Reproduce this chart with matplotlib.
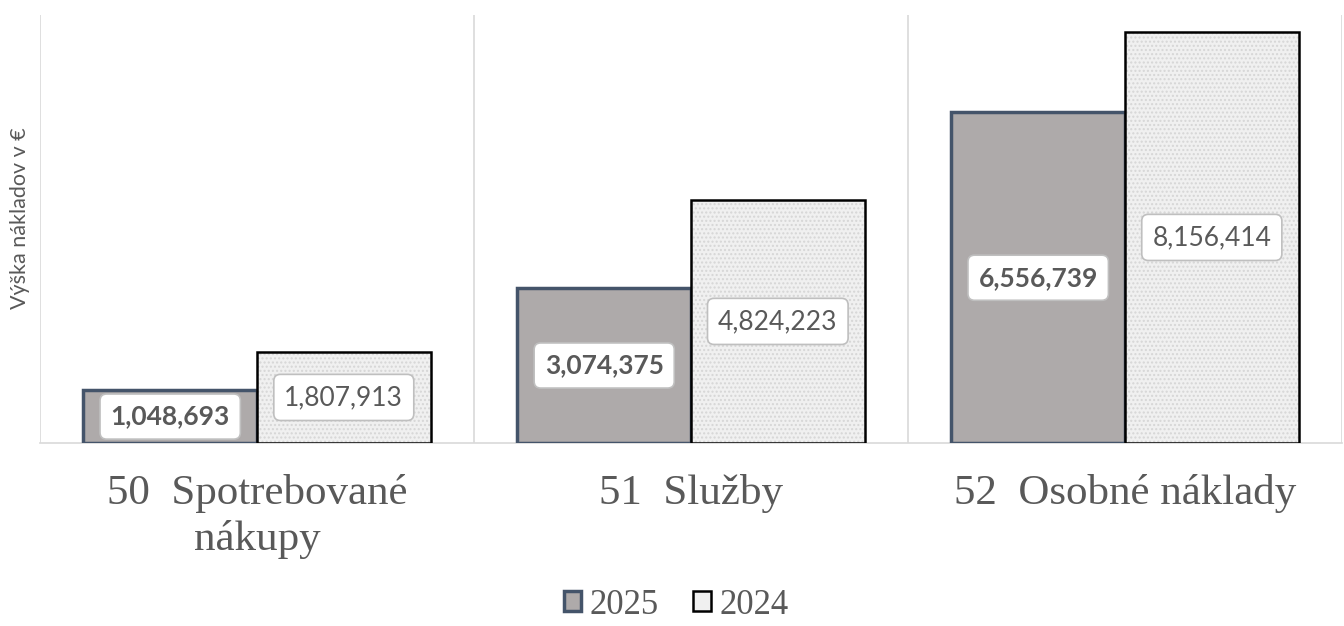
import numpy as np
import matplotlib
matplotlib.use("Agg")
import matplotlib.pyplot as plt
from matplotlib.patches import Patch

categories = ["50  Spotrebované\nnákupy", "51  Služby", "52  Osobné náklady"]
values_2025 = [1048693, 3074375, 6556739]
values_2024 = [1807913, 4824223, 8156414]
series_names = ["2025", "2024"]

fig = plt.figure(figsize=(13.44, 6.26), dpi=100)
ax = fig.add_axes([40 / 1344, 1 - 443 / 626, 1302 / 1344, 428 / 626])

x = np.arange(len(categories))
w = 0.4

# 2025 - solid gray with slate edge
ax.bar(x - w / 2, values_2025, w, color="#AEAAAA", edgecolor="#44546A", linewidth=2.5, zorder=3)
# 2024 - light textured fill, black outline
ax.bar(x + w / 2, values_2024, w, color="#F0F0F0", edgecolor="#D6D6D6", hatch="....", linewidth=0, zorder=3)
ax.bar(x + w / 2, values_2024, w, fill=False, edgecolor="black", linewidth=1.8, zorder=4)

box = dict(boxstyle="round,pad=0.4,rounding_size=0.25", fc="white", ec="#BFBFBF", lw=1.2)
for i in range(len(categories)):
    ax.text(x[i] - w / 2, values_2025[i] / 2, f"{values_2025[i]:,}", ha="center", va="center",
            fontsize=19, fontweight="bold", color="#595959", family="Lato", bbox=box, zorder=5)
    ax.text(x[i] + w / 2, values_2024[i] / 2, f"{values_2024[i]:,}", ha="center", va="center",
            fontsize=19, color="#595959", family="Lato", bbox=box, zorder=5)

ax.set_xlim(-0.5, 2.5)
ax.set_ylim(0, 8.49e6)
ax.set_yticks([])
ax.set_xticks(x)
ax.set_xticklabels(categories, family="Liberation Serif", fontsize=31, color="#595959", linespacing=1.25)
ax.tick_params(axis="x", length=0, pad=22)

for b in [0.5, 1.5, 2.5]:
    ax.axvline(b, color="#D9D9D9", lw=1.2, zorder=1)
for s in ["top", "right", "left"]:
    ax.spines[s].set_visible(False)
ax.spines["bottom"].set_color("#D9D9D9")
ax.spines["bottom"].set_linewidth(1.2)
ax.axvline(-0.5, color="#D9D9D9", lw=1.2, zorder=1)

fig.text(20 / 1344, 1 - 218 / 626, "Výška nákladov v €", rotation=90, ha="center", va="center",
         family="Lato", fontsize=15.5, color="#595959")

handles = [Patch(facecolor="#AEAAAA", edgecolor="#44546A", linewidth=2.5),
           Patch(facecolor="#F0F0F0", edgecolor="black", linewidth=1.8)]
fig.legend(handles, series_names, loc="center", bbox_to_anchor=(0.503, 1 - 605 / 626), ncol=2, frameon=False,
           prop={"family": "Liberation Serif", "size": 25}, handlelength=0.5, handleheight=0.5,
           handletextpad=0.25, columnspacing=1.0, labelcolor="#595959")

fig.savefig("out.png", dpi=100)
